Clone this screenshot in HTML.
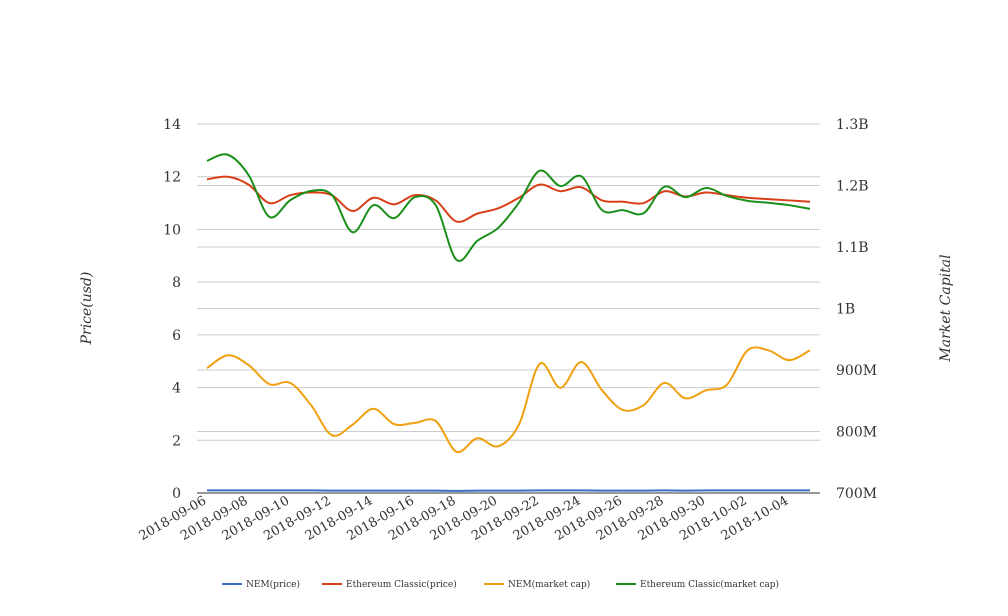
<!DOCTYPE html>
<html><head><meta charset="utf-8"><style>
body{margin:0;background:#fff}
svg{display:block;font-family:"DejaVu Serif","Liberation Serif",serif}
</style></head><body>
<svg id="chart" width="1008" height="616">
<g id="grid"></g>
<g id="axes"></g>
<g id="series"></g>
<g id="legend"></g>
<text transform="translate(91,308) rotate(-90)" text-anchor="middle" font-size="14" font-style="italic" fill="#333">Price(usd)</text>
<text transform="translate(950,308) rotate(-90)" text-anchor="middle" font-size="14" font-style="italic" fill="#333">Market Capital</text>
</svg>
<script>
const dates=["2018-09-06","2018-09-07","2018-09-08","2018-09-09","2018-09-10","2018-09-11","2018-09-12","2018-09-13","2018-09-14","2018-09-15","2018-09-16","2018-09-17","2018-09-18","2018-09-19","2018-09-20","2018-09-21","2018-09-22","2018-09-23","2018-09-24","2018-09-25","2018-09-26","2018-09-27","2018-09-28","2018-09-29","2018-09-30","2018-10-01","2018-10-02","2018-10-03","2018-10-04","2018-10-05"];
const nemPrice=[0.1,0.1,0.1,0.1,0.1,0.1,0.09,0.09,0.09,0.09,0.09,0.09,0.08,0.09,0.09,0.09,0.1,0.1,0.1,0.09,0.09,0.09,0.1,0.09,0.1,0.1,0.1,0.1,0.1,0.1];
const etcPrice=[11.9,12.0,11.7,11.0,11.3,11.4,11.3,10.7,11.2,10.95,11.3,11.1,10.3,10.6,10.8,11.2,11.7,11.45,11.6,11.1,11.05,11.0,11.45,11.25,11.4,11.3,11.2,11.15,11.1,11.05];
const nemCap=[903,924,908,877,879,843,794,811,837,812,814,817,767,789,776,811,910,871,913,867,835,843,879,854,867,876,932,932,916,932];
const etcCap=[1240,1250,1217,1149,1176,1191,1185,1124,1168,1147,1181,1168,1079,1110,1131,1172,1224,1199,1215,1160,1160,1155,1198,1181,1196,1183,1175,1172,1168,1162];
const leftTicks=[0,2,4,6,8,10,12,14];
const rightTicks=[700,800,900,1000,1100,1200,1300];
const rightLabels=["700M","800M","900M","1B","1.1B","1.2B","1.3B"];
const seriesNames=["NEM(price)","Ethereum Classic(price)","NEM(market cap)","Ethereum Classic(market cap)"];
const colors=["#3b6fc4","#d9401a","#f0a010","#1a8f1a"];
const NS="http://www.w3.org/2000/svg";
const X0=207,X1=810,YB=493,YT=124,PL=197,PR=820;
const x=i=>X0+(X1-X0)*i/(dates.length-1);
const yL=v=>YB-(YB-YT)*v/14;
const yR=v=>YB-(YB-YT)*(v-700)/600;
function mk(t,a,p){const e=document.createElementNS(NS,t);for(const k in a)e.setAttribute(k,a[k]);p.appendChild(e);return e;}
const grid=document.getElementById('grid'),axes=document.getElementById('axes'),ser=document.getElementById('series'),leg=document.getElementById('legend');
leftTicks.forEach(v=>{
 const l=mk('line',{x1:PL,x2:PR,y1:yL(v),y2:yL(v),stroke:v===0?'#333':'#ccc','stroke-width':1},grid);
 
 
 const t=mk('text',{x:181,y:yL(v)+5,'text-anchor':'end','font-size':14,fill:'#333'},axes);t.textContent=v;
 
 
});
rightTicks.forEach((v,i)=>{
 if(v!==700){const l=mk('line',{x1:PL,x2:PR,y1:yR(v),y2:yR(v),stroke:'#ccc','stroke-width':1},grid);
 
 }
 const t=mk('text',{x:836,y:yR(v)+5,'font-size':14,fill:'#333'},axes);t.textContent=rightLabels[i];
 
 
});
dates.forEach((d,i)=>{
 if(i%2)return;
 const t=mk('text',{x:x(i),y:503,'text-anchor':'end','font-size':13,fill:'#333',transform:`rotate(-30 ${x(i)} 503)`},axes);t.textContent=d;
 
 
});
function path(vals,fy){
 const p=vals.map((v,i)=>[x(i),fy(v)]);let d=`M${p[0][0]},${p[0][1]}`;
 for(let i=0;i<p.length-1;i++){const a=p[Math.max(i-1,0)],b=p[i],c=p[i+1],e=p[Math.min(i+2,p.length-1)];
  d+=` C${b[0]+(c[0]-a[0])/6},${b[1]+(c[1]-a[1])/6} ${c[0]-(e[0]-b[0])/6},${c[1]-(e[1]-b[1])/6} ${c[0]},${c[1]}`;}
 return d;}
[[nemPrice,yL],[etcPrice,yL],[nemCap,yR],[etcCap,yR]].forEach((s,k)=>{
 const p=mk('path',{d:path(s[0],s[1]),fill:'none',stroke:colors[k],'stroke-width':2},ser);
 
 
});
const lx=[222,322,484,616];
seriesNames.forEach((n,k)=>{
 const g=mk('g',{},leg);
 
 
 mk('line',{x1:lx[k],x2:lx[k]+20,y1:584,y2:584,stroke:colors[k],'stroke-width':2},g);
 const t=mk('text',{x:lx[k]+24,y:587,'font-size':9,fill:'#333'},g);t.textContent=n;
});
</script>
</body></html>
